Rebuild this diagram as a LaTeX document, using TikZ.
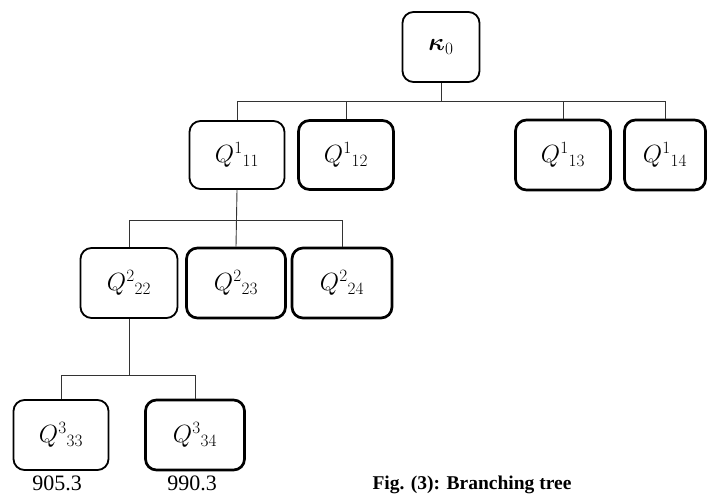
\documentclass[tikz,border=0pt]{standalone}
\usepackage{amsmath,amssymb,bm}
\usepackage{fontspec}
\setmainfont{Liberation Serif}
\begin{document}
\begin{tikzpicture}[x=1pt,y=-1pt,
  box/.style={draw, rounded corners=11pt, line width=1.8pt, inner sep=0pt,
    minimum width=95pt, minimum height=68pt, font=\fontsize{26}{30}\selectfont},
  boxb/.style={box, line width=2.7pt},
  edge/.style={line width=0.9pt, draw=black!80},
  lab/.style={font=\fontsize{22}{26}\selectfont, inner sep=0pt, anchor=base}]
\useasboundingbox (0,0) rectangle (708,495);
% nodes
\node[box, minimum width=77pt, minimum height=70pt] (k0) at (441,47) {$\bm{\kappa}_0$};
\node[box] (q11) at (237,155) {$Q^{1}{}_{11}$};
\node[boxb, minimum height=69pt] (q12) at (346,155) {$Q^{1}{}_{12}$};
\node[boxb, minimum height=70pt] (q13) at (563,155) {$Q^{1}{}_{13}$};
\node[boxb, minimum width=81pt, minimum height=70pt] (q14) at (665,155) {$Q^{1}{}_{14}$};
\node[box, minimum width=97pt, minimum height=70pt] (q22) at (129,283) {$Q^{2}{}_{22}$};
\node[boxb, minimum width=99pt, minimum height=70pt] (q23) at (236,283) {$Q^{2}{}_{23}$};
\node[boxb, minimum width=100pt, minimum height=70pt] (q24) at (342,283) {$Q^{2}{}_{24}$};
\node[box, minimum width=95pt, minimum height=70pt] (q33) at (61,435) {$Q^{3}{}_{33}$};
\node[boxb, minimum width=99pt, minimum height=70pt] (q34) at (195,435) {$Q^{3}{}_{34}$};
\node[lab] (v33) at (57,490) {905.3};
\node[lab] (v34) at (192,490) {990.3};
\node[font=\fontsize{19.5}{22}\selectfont\bfseries, inner sep=0pt, anchor=base] (cap) at (472,489) {Fig. (3): Branching tree};
% bars
\coordinate (b1) at (0,101);
\coordinate (b2) at (0,220);
\coordinate (b3) at (0,375);
% level 1
\draw[edge] (k0.south) -- (k0.south |- b1);
\draw[edge] (q11.north) -- (q11.north |- b1) -- (q14.north |- b1) -- (q14.north);
\draw[edge] (q12.north) -- (q12.north |- b1);
\draw[edge] (q13.north) -- (q13.north |- b1);
% level 2
\draw[edge] (q11.south) -- (q23.north);
\draw[edge] (q22.north) -- (q22.north |- b2) -- (q24.north |- b2) -- (q24.north);
% level 3
\draw[edge] (q22.south) -- (q22.south |- b3);
\draw[edge] (q33.north) -- (q33.north |- b3) -- (q34.north |- b3) -- (q34.north);
\end{tikzpicture}
\end{document}
